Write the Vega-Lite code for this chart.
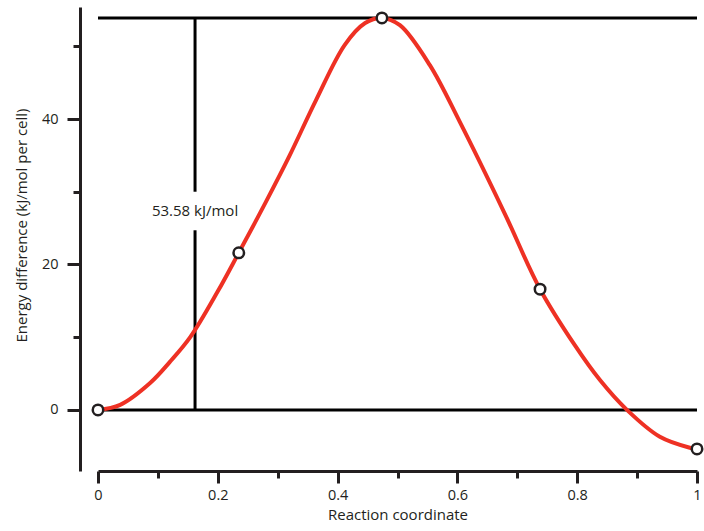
{
  "$schema": "https://vega.github.io/schema/vega-lite/v6.json",
  "autosize": "none",
  "width": 599,
  "height": 464,
  "padding": {"left": 98, "top": 7, "right": 7, "bottom": 60},
  "background": "white",
  "config": {
    "view": {"stroke": null},
    "font": "Open Sans",
    "axis": {
      "domainColor": "#231f20", "domainWidth": 3, "tickColor": "#231f20", "tickWidth": 3,
      "grid": false, "labelFont": "Open Sans", "labelFontSize": 14.5, "labelColor": "#231f20",
      "titleFont": "Open Sans", "titleFontSize": 15, "titleFontWeight": "normal", "titleColor": "#231f20"
    }
  },
  "datasets": {
    "curve": [
      {"x": 0, "y": 0}, {"x": 0.037, "y": 0.7}, {"x": 0.087, "y": 3.7}, {"x": 0.12, "y": 6.6}, {"x": 0.154, "y": 10.0},
      {"x": 0.2, "y": 16.3}, {"x": 0.235, "y": 21.6}, {"x": 0.279, "y": 28.4}, {"x": 0.32, "y": 35.0}, {"x": 0.364, "y": 42.6},
      {"x": 0.412, "y": 50.2}, {"x": 0.446, "y": 53.2}, {"x": 0.474, "y": 53.9}, {"x": 0.504, "y": 52.9},
      {"x": 0.554, "y": 47.4}, {"x": 0.604, "y": 39.6}, {"x": 0.679, "y": 27.0}, {"x": 0.738, "y": 16.6},
      {"x": 0.796, "y": 8.9}, {"x": 0.838, "y": 4.1}, {"x": 0.883, "y": 0}, {"x": 0.938, "y": -3.7},
      {"x": 0.988, "y": -5.2}, {"x": 1, "y": -5.36}
    ],
    "pts": [
      {"x": 0, "y": 0}, {"x": 0.235, "y": 21.6}, {"x": 0.474, "y": 53.9}, {"x": 0.738, "y": 16.6}, {"x": 1, "y": -5.36}
    ],
    "rules": [
      {"x": 0, "x2": 1, "y": 0, "y2": 0},
      {"x": 0, "x2": 1, "y": 53.9, "y2": 53.9},
      {"x": 0.162, "x2": 0.162, "y": 0, "y2": 24.7},
      {"x": 0.162, "x2": 0.162, "y": 30.0, "y2": 53.9}
    ],
    "label": [{"x": 0.162, "y": 27.3, "text": "53.58 kJ/mol"}]
  },
  "layer": [
    {
      "data": {"name": "rules"},
      "mark": {"type": "rule", "color": "#000000", "strokeWidth": 3},
      "encoding": {
        "x": {"field": "x", "type": "quantitative", "scale": {"domain": [0, 1], "nice": false, "zero": false},
          "axis": {"values": [0, 0.1, 0.2, 0.3, 0.4, 0.5, 0.6, 0.7, 0.8, 0.9, 1],
            "labelExpr": "round(datum.value*10) % 2 == 0 ? format(datum.value, '~g') : ''",
            "tickSize": {"condition": {"test": "round(datum.value*10) % 2 == 0", "value": 12}, "value": 7},
            "labelPadding": 5, "labelFlush": false, "title": "Reaction coordinate", "titlePadding": 6, "offset": 0}},
        "x2": {"field": "x2"},
        "y": {"field": "y", "type": "quantitative", "scale": {"domain": [-8.4, 55.4], "nice": false, "zero": false},
          "axis": {"values": [0, 10, 20, 30, 40, 50],
            "labelExpr": "datum.value % 20 == 0 ? datum.label : ''",
            "tickSize": {"condition": {"test": "datum.value % 20 == 0", "value": 13}, "value": 7},
            "labelPadding": 9, "offset": 18, "title": "Energy difference (kJ/mol per cell)", "titlePadding": 12, "titleY": 218}},
        "y2": {"field": "y2"}
      }
    },
    {
      "data": {"name": "curve"},
      "mark": {"type": "line", "color": "#ee3124", "strokeWidth": 4, "interpolate": "catmull-rom"},
      "encoding": {
        "x": {"field": "x", "type": "quantitative"},
        "y": {"field": "y", "type": "quantitative"}
      }
    },
    {
      "data": {"name": "pts"},
      "mark": {"type": "point", "filled": false, "fill": "white", "fillOpacity": 1, "stroke": "#231f20", "strokeWidth": 2.5, "size": 110, "opacity": 1},
      "encoding": {
        "x": {"field": "x", "type": "quantitative"},
        "y": {"field": "y", "type": "quantitative"}
      }
    },
    {
      "data": {"name": "label"},
      "mark": {"type": "text", "fontSize": 15, "font": "Open Sans", "color": "#231f20", "align": "center", "baseline": "middle"},
      "encoding": {
        "x": {"field": "x", "type": "quantitative"},
        "y": {"field": "y", "type": "quantitative"},
        "text": {"field": "text"}
      }
    }
  ]
}
